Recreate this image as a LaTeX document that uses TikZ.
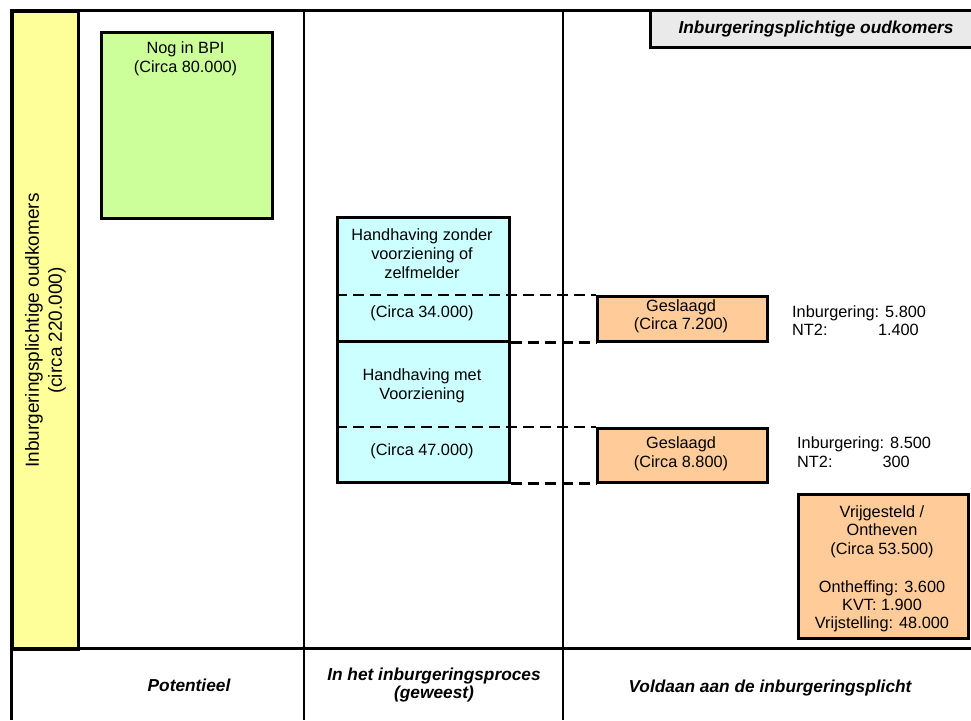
\documentclass[tikz,border=0pt]{standalone}
\usepackage{fontspec}
\setmainfont{Liberation Sans}
\definecolor{colyellow}{HTML}{FFFF99}
\definecolor{colgreen}{HTML}{CCFF99}
\definecolor{colcyan}{HTML}{CCFFFF}
\definecolor{colorange}{HTML}{FFCC99}
\definecolor{colgrey}{HTML}{EAEAEA}
\begin{document}
\begin{tikzpicture}[x=1pt,y=-1pt,
  heavy/.style={line width=3pt},
  thinline/.style={line width=1.2pt},
  box/.style={draw, line width=2.6pt, inner sep=0pt, anchor=north west},
  txt/.style={font=\fontsize{16.3}{19}\selectfont, inner sep=0pt, anchor=base},
  txtl/.style={txt, anchor=base west},
  txtr/.style={txt, anchor=base east},
  lbl/.style={font=\fontsize{17.3}{19}\selectfont\bfseries\itshape, inner sep=0pt, anchor=base},
  link/.style={line width=2.5pt, dash pattern=on 11pt off 6pt}]
\useasboundingbox (0,0) rectangle (971,720);
% column lines
\draw[thinline] (304,10) -- (304,720);
\draw[thinline] (563,10) -- (563,720);
% title box
\node[fill=colgrey, inner sep=0pt, anchor=north west, minimum width=322pt, minimum height=37pt] (title) at (650,10) {};
\draw[heavy] (title.north west) -- (title.south west) -- (title.south east);
\node[lbl] (titletext) at (816,33) {Inburgeringsplichtige oudkomers};
% yellow column
\node[draw, fill=colyellow, line width=3pt, inner sep=0pt, anchor=north west, minimum width=66pt, minimum height=638pt] (col) at (11,10) {};
\node[rotate=90, font=\fontsize{19}{23}\selectfont, align=center, inner sep=0pt] (coltext) at (col.center) {Inburgeringsplichtige oudkomers\\(circa 220.000)};
% frame lines
\draw[heavy] (9.5,10) -- (971,10);
\draw[heavy] (11,10) -- (11,720);
\draw[heavy] (11,648) -- (971,648);
% boxes
\node[box, fill=colgreen, minimum width=171pt, minimum height=186pt] (bpi) at (100,31) {};
\node[box, fill=colcyan, minimum width=172pt, minimum height=124pt] (hz) at (336,216) {};
\node[box, fill=colcyan, minimum width=172pt, minimum height=141pt] (hm) at (336,340) {};
\node[box, fill=colorange, minimum width=170pt, minimum height=45pt] (g1) at (596,295) {};
\node[box, fill=colorange, minimum width=170pt, minimum height=54pt] (g2) at (596,427) {};
\node[box, fill=colorange, minimum width=170pt, minimum height=144pt] (vr) at (797,493) {};
% dashed connectors
\draw[link] (hz.west |- g1.north) -- (g1.north west);
\draw[link] (hz.south east) -- (g1.south west);
\draw[link] (hm.west |- g2.north) -- (g2.north west);
\draw[link] (hm.south east) -- (g2.south west);
% texts in boxes
\node[txt] (bpiA) at (185.5,53) {Nog in BPI};
\node[txt] (bpiB) at (185.5,72) {(Circa 80.000)};
\node[txt] (hzA) at (422,240) {Handhaving zonder};
\node[txt] (hzB) at (422,259) {voorziening of};
\node[txt] (hzC) at (422,278) {zelfmelder};
\node[txt] (hzD) at (422,317) {(Circa 34.000)};
\node[txt] (hmA) at (422,380) {Handhaving met};
\node[txt] (hmB) at (422,399) {Voorziening};
\node[txt] (hmC) at (422,455) {(Circa 47.000)};
\node[txt] (g1A) at (681,311) {Geslaagd};
\node[txt] (g1B) at (681,329) {(Circa 7.200)};
\node[txt] (g2A) at (681,448) {Geslaagd};
\node[txt] (g2B) at (681,467) {(Circa 8.800)};
\node[txt] (vrA) at (882,517) {Vrijgesteld /};
\node[txt] (vrB) at (882,535.5) {Ontheven};
\node[txt] (vrC) at (882,554) {(Circa 53.500)};
\node[txt] (vrD) at (882,592.5) {Ontheffing: 3.600};
\node[txt] (vrE) at (882,610) {KVT: 1.900};
\node[txt] (vrF) at (882,628) {Vrijstelling: 48.000};
% side texts
\node[txtl] (s1A) at (792,317) {Inburgering: 5.800};
\node[txtl] (s1B) at (792,335) {NT2:};
\node[txtr] (s1C) at (919,335) {1.400};
\node[txtl] (s2A) at (797,448) {Inburgering: 8.500};
\node[txtl] (s2B) at (797,467) {NT2:};
\node[txtr] (s2C) at (910,467) {300};
% bottom labels
\node[lbl] (potA) at (189,691) {Potentieel};
\node[lbl] (inA) at (434,680) {In het inburgeringsproces};
\node[lbl] (inB) at (434,698) {(geweest)};
\node[lbl] (volA) at (770,692) {Voldaan aan de inburgeringsplicht};
\end{tikzpicture}
\end{document}
